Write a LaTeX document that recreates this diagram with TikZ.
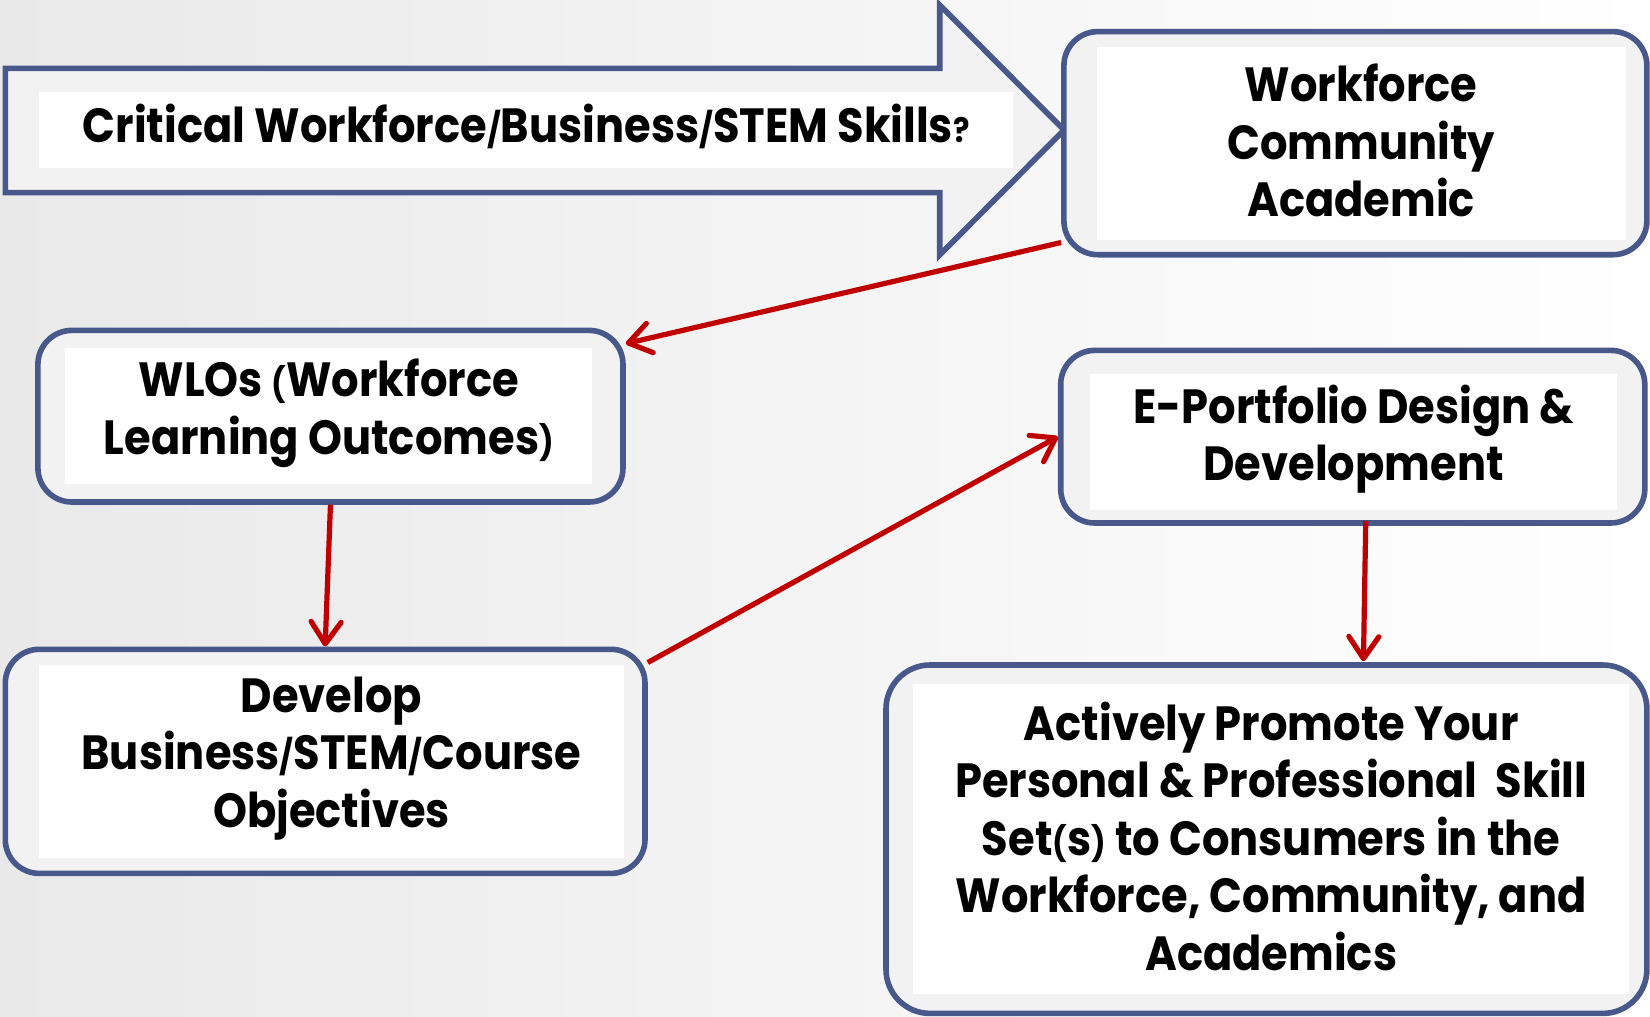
\documentclass[tikz,border=0pt]{standalone}
\usepackage{fontspec}
\setmainfont{Poppins}[FakeStretch=0.9]
\usetikzlibrary{arrows.meta,calc,fit}
\definecolor{bordercol}{RGB}{72,88,138}
\definecolor{boxfill}{RGB}{242,242,242}
\definecolor{linkred}{RGB}{192,0,0}
\definecolor{bgleft}{RGB}{233,233,233}
\newcommand\smallch[1]{{\fontsize{17}{17}\selectfont #1}}
\begin{document}
\begin{tikzpicture}[x=0.5pt,y=-0.5pt,
  outerbox/.style={draw=bordercol, line width=2.8pt, fill=boxfill, rounded corners=17pt, inner sep=0pt},
  innerbox/.style={fill=white, draw=none, inner sep=0pt},
  txt/.style={align=center, font=\fontsize{24}{28.7}\selectfont\bfseries, text=black, inner sep=0pt},
  link/.style={draw=linkred, line width=2.6pt, -{Straight Barb[round,length=11pt,width=15pt]}}]
\useasboundingbox (0,0) rectangle (1650,1017);
\shade[left color=bgleft, right color=white] (0,0) rectangle (1650,1017);

% big arrow
\draw[draw=bordercol, line width=2.8pt, fill=boxfill, line join=miter]
  (5.3,68.4) -- (939.7,68.4) -- (939.7,5) -- (1064,130) -- (939.7,255) -- (939.7,192.6) -- (5.3,192.6) -- cycle;
\node[innerbox, fit={(38.9,91.5) (1013.4,168.4)}] (critIn) {};
\node[txt] (crit) at ($(critIn.center)+(0,-3)$) {Critical Workforce\smallch{/}Business\smallch{/}STEM Skills\smallch{?}};

% boxes
\node[outerbox, fit={(1063.9,31.6) (1646.9,254.7)}] (wca) {};
\node[innerbox, fit={(1096.5,47.4) (1625.8,239.9)}] (wcaIn) {};
\node[txt] (wcaT) at ($(wcaIn.center)+(0,-3)$) {Workforce\\Community\\Academic};

\node[outerbox, fit={(37.9,330.4) (623,502)}] (wlo) {};
\node[innerbox, fit={(65.2,348.3) (592.4,484)}] (wloIn) {};
\node[txt] (wloT) at ($(wloIn.center)+(0,-3)$) {WLOs \smallch{(}Workforce\\Learning Outcomes\smallch{)}};

\node[outerbox, fit={(5.3,649.3) (645,873.4)}] (dev) {};
\node[innerbox, fit={(38.9,665) (624,857.6)}] (devIn) {};
\node[txt] (devT) at ($(devIn.center)+(0,-3)$) {Develop\\Business\smallch{/}STEM\smallch{/}Course\\Objectives};

\node[outerbox, fit={(1060.7,350.4) (1644.8,523)}] (eport) {};
\node[innerbox, fit={(1090,373.6) (1617.4,510.4)}] (eportIn) {};
\node[txt] (eportT) at ($(eportIn.center)+(0,-3)$) {E-Portfolio Design \&\\Development};

\node[outerbox, rounded corners=22pt, fit={(886,665) (1646.9,1013.4)}] (act) {};
\node[innerbox, fit={(913.4,684) (1629,994.4)}] (actIn) {};
\node[txt] (actT) at ($(actIn.center)+(0,-3)$) {Actively Promote Your\\Personal \& Professional\ \ Skill\\Set\smallch{(}s\smallch{)} to Consumers in the\\Workforce, Community, and\\Academics};

% connectors
\draw[link] ($(wca.south west)+(0,-15)$) -- ($(wlo.north east)+(0,16)$);
\draw[link] (wlo.south) -- (dev.north);
\draw[link] ($(dev.north east)+(0,16)$) -- (eport.west);
\draw[link] ($(eport.south)+(13,-5)$) -- ($(act.north)+(97,-1)$);
\end{tikzpicture}
\end{document}
